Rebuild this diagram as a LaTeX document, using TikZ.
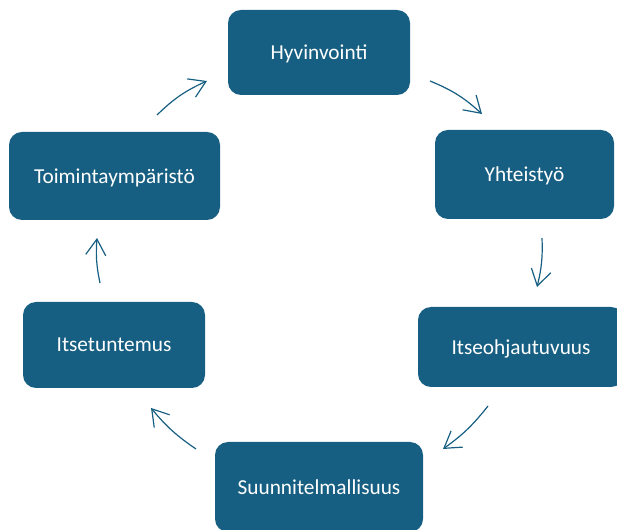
\documentclass[tikz,border=0pt]{standalone}
\usepackage{fontspec}
\setmainfont{Carlito}
\usetikzlibrary{arrows.meta}
\definecolor{boxblue}{RGB}{23,95,130}
\tikzset{
  box/.style={draw=none, fill=boxblue, rounded corners=13pt, text=white,
    font=\fontsize{21.3}{25}\selectfont, inner sep=0pt, text depth=0pt},
  cyc/.style={draw=boxblue, line width=1.2pt,
    -{Straight Barb[length=16pt,width=20pt,line width=1.2pt]}},
}
\begin{document}
\begin{tikzpicture}[x=1pt,y=1pt]
\useasboundingbox (0,0) rectangle (617,529);
\node[box, minimum width=182pt, minimum height=85pt] (hyv) at (319,476.5) {Hyvinvointi};
\node[box, minimum width=179pt, minimum height=89pt] (yht) at (524.5,354.5) {Yhteistyö};
\node[box, minimum width=206pt, minimum height=80pt] (ito) at (521,182) {Itseohjautuvuus};
\node[box, minimum width=208pt, minimum height=90pt] (suu) at (319,42) {Suunnitelmallisuus};
\node[box, minimum width=182pt, minimum height=86pt] (its) at (114,184) {Itsetuntemus};
\node[box, minimum width=211pt, minimum height=88pt] (toi) at (114.5,353) {Toimintaympäristö};
\coordinate (a1s) at (157,414); \coordinate (a1e) at (207,448);
\coordinate (a2s) at (430,448); \coordinate (a2e) at (482,415);
\coordinate (a3s) at (542,291); \coordinate (a3e) at (537,242);
\coordinate (a4s) at (488,123); \coordinate (a4e) at (443,80);
\coordinate (a5s) at (196,80);  \coordinate (a5e) at (151,121);
\coordinate (a6s) at (100,246); \coordinate (a6e) at (97,291);
\draw[cyc] (a1s) to[bend left=10] (a1e);
\draw[cyc] (a2s) to[bend left=10] (a2e);
\draw[cyc] (a3s) to[bend left=8] (a3e);
\draw[cyc] (a4s) to[bend left=8] (a4e);
\draw[cyc] (a5s) to[bend left=8] (a5e);
\draw[cyc] (a6s) to[bend left=8] (a6e);
\end{tikzpicture}
\end{document}
